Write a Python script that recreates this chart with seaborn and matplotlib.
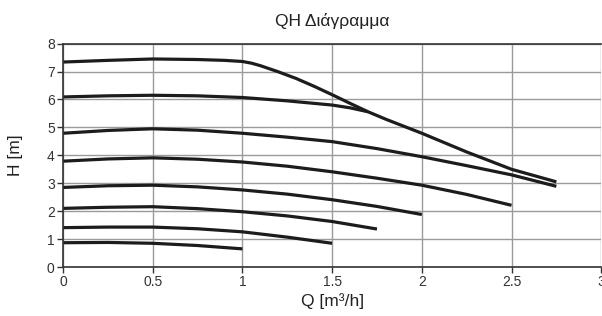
import matplotlib
matplotlib.use("Agg")
import matplotlib.pyplot as plt
import seaborn as sns
import pandas as pd

# Pump curves: flow Q [m3/h] and head H [m]
q1 = [0, 0.25, 0.5, 0.75, 0.9, 1.0, 1.05, 1.1, 1.2, 1.3, 1.4, 1.5, 1.6, 1.7, 1.8, 1.9, 2.0, 2.25, 2.5, 2.75]
h1 = [7.34, 7.40, 7.45, 7.43, 7.40, 7.36, 7.30, 7.21, 6.99, 6.75, 6.47, 6.17, 5.86, 5.56, 5.29, 5.04, 4.79, 4.12, 3.50, 3.05]
q2 = [0, 0.25, 0.5, 0.75, 1.0, 1.25, 1.5, 1.6, 1.7]
h2 = [6.09, 6.13, 6.15, 6.13, 6.07, 5.95, 5.80, 5.70, 5.56]
q3 = [0, 0.25, 0.5, 0.75, 1.0, 1.25, 1.5, 1.75, 2.0, 2.25, 2.5, 2.75]
h3 = [4.79, 4.89, 4.95, 4.90, 4.79, 4.65, 4.49, 4.24, 3.95, 3.63, 3.30, 2.89]
q4 = [0, 0.25, 0.5, 0.75, 1.0, 1.25, 1.5, 1.75, 2.0, 2.25, 2.5]
h4 = [3.79, 3.87, 3.91, 3.86, 3.76, 3.61, 3.41, 3.18, 2.93, 2.60, 2.21]
q5 = [0, 0.25, 0.5, 0.75, 1.0, 1.25, 1.5, 1.75, 2.0]
h5 = [2.85, 2.91, 2.93, 2.87, 2.76, 2.61, 2.41, 2.17, 1.88]
q6 = [0, 0.25, 0.5, 0.75, 1.0, 1.25, 1.5, 1.75]
h6 = [2.10, 2.14, 2.16, 2.09, 1.98, 1.83, 1.63, 1.36]
q7 = [0, 0.25, 0.5, 0.75, 1.0, 1.25, 1.5]
h7 = [1.41, 1.43, 1.43, 1.37, 1.26, 1.07, 0.85]
q8 = [0, 0.25, 0.5, 0.75, 1.0]
h8 = [0.87, 0.88, 0.85, 0.77, 0.65]

x_ticks = [0, 0.5, 1, 1.5, 2, 2.5, 3]
x_tick_labels = ["0", "0.5", "1", "1.5", "2", "2.5", "3"]
y_ticks = [0, 1, 2, 3, 4, 5, 6, 7, 8]

title = "QH Διάγραμμα"
xlabel = "Q [m³/h]"
ylabel = "H [m]"

curves = [(q1, h1), (q2, h2), (q3, h3), (q4, h4), (q5, h5), (q6, h6), (q7, h7), (q8, h8)]
frames = []
for i, (q, h) in enumerate(curves):
    frames.append(pd.DataFrame({"Q": q, "H": h, "curve": f"c{i+1}"}))
df = pd.concat(frames, ignore_index=True)

sns.set_style("white")
plt.rcParams["font.family"] = ["Liberation Sans", "DejaVu Sans"]

fig = plt.figure(figsize=(6.02, 3.16), dpi=100)
ax = fig.add_axes([0.1047, 0.155, 0.894, 0.707])

sns.lineplot(data=df, x="Q", y="H", hue="curve", palette=["#1c1c1c"] * 8,
             linewidth=2.3, legend=False, ax=ax, sort=True, estimator=None)
for ln in ax.get_lines():
    ln.set_solid_joinstyle("round")
    ln.set_solid_capstyle("butt")

ax.set_xlim(0, 3)
ax.set_ylim(0, 8)
ax.set_xticks(x_ticks)
ax.set_xticklabels(x_tick_labels)
ax.set_yticks(y_ticks)
ax.grid(True, color="#9a9a9a", linewidth=1.0)
ax.set_axisbelow(True)

for s in ["left", "bottom", "top"]:
    ax.spines[s].set_color("#333333")
    ax.spines[s].set_linewidth(1.2)
ax.spines["right"].set_visible(False)

ax.tick_params(axis="both", which="major", labelsize=10, length=4, width=1,
               color="#333333", labelcolor="#333333", direction="out",
               left=True, bottom=True, pad=2)

ax.set_xlabel(xlabel, fontsize=12.5, color="#222222", labelpad=3)
ax.set_ylabel(ylabel, fontsize=12.5, color="#222222", labelpad=17)
ax.set_title(title, fontsize=12.5, color="#222222", pad=13)

fig.savefig("out.png", dpi=100)
